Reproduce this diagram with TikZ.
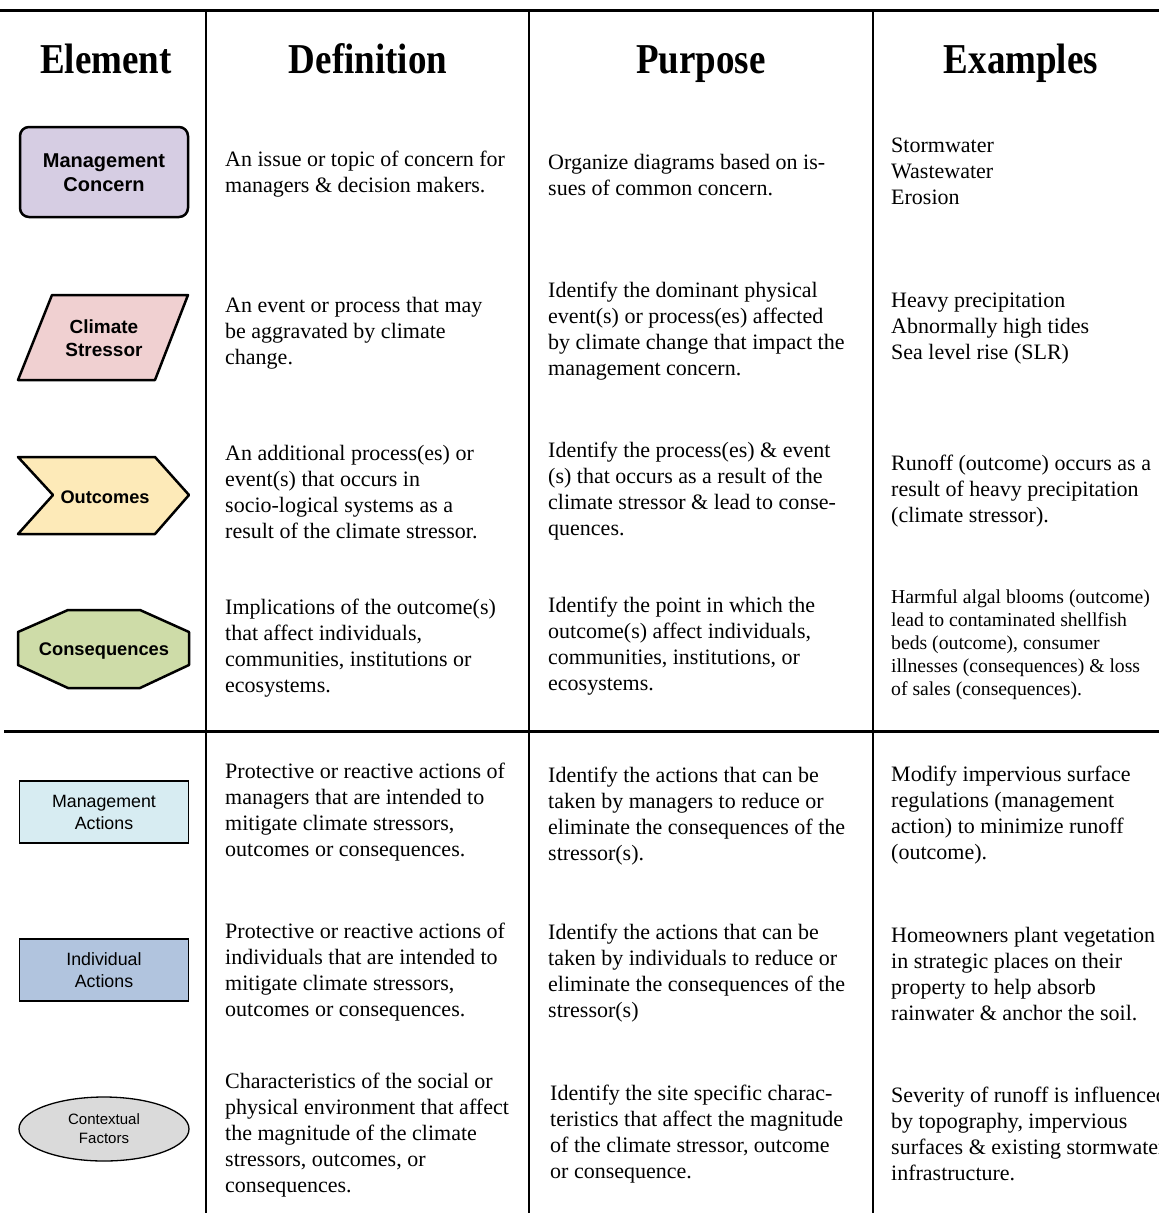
\documentclass[tikz,border=0pt]{standalone}
\usepackage{fontspec}
\setmainfont{Liberation Serif}
\newfontfamily\arialfont{Liberation Sans}
\usetikzlibrary{shapes.geometric}
\definecolor{concernfill}{RGB}{214,205,227}
\definecolor{stressfill}{RGB}{240,208,209}
\definecolor{outcomefill}{RGB}{253,234,184}
\definecolor{consfill}{RGB}{206,220,168}
\definecolor{mgmtfill}{RGB}{215,236,242}
\definecolor{indivfill}{RGB}{177,196,222}
\definecolor{ctxfill}{RGB}{218,218,218}

\begin{document}
\begin{tikzpicture}[x=1pt,y=-1pt,
          head/.style={anchor=base,font=\fontsize{37}{40}\selectfont\bfseries},
          txt/.style={anchor=west,align=left,inner sep=0,yshift=-2pt,font=\fontsize{22}{26}\selectfont},
          smalltxt/.style={txt,font=\fontsize{19.7}{23}\selectfont},
          shapeline/.style={draw,line width=2.5,line join=round},
          elem/.style={align=center,font=\arialfont\bfseries\fontsize{20}{24}\selectfont},
          act/.style={draw,line width=1.3,minimum width=169,minimum height=62,align=center,
                      font=\arialfont\fontsize{17.8}{22}\selectfont},
          rule/.style={line width=2}
        ]
        \useasboundingbox (0,0) rectangle (1159,1213);
        \clip (0,0) rectangle (1159,1213);

        %table rules
        \draw[rule,line width=3] (0,10) -- (1159,10);
        \draw[rule,line width=3] (4,731) -- (1159,731);
        \draw[rule] (206,10) -- (206,1213);
        \draw[rule] (529,10) -- (529,1213);
        \draw[rule] (873,10) -- (873,1213);

        %headers
        \node[head] (hElem) at (106,73) {\scalebox{1}[1.15]{Element}};
        \node[head] (hDef) at (368,73) {\scalebox{1}[1.15]{Definition}};
        \node[head] (hPurp) at (701,73) {\scalebox{1}[1.15]{Purpose}};
        \node[head] (hEx) at (1021,73) {\scalebox{1}[1.15]{Examples}};

        %element shapes
        \draw[shapeline,fill=concernfill,rounded corners=9] (20,127) rectangle (188,217);
        \node[elem] (concern) at (104,173) {Management\\Concern};

        \draw[shapeline,fill=stressfill] (18,380) -- (52,295) -- (188,295) -- (155,380) -- cycle;
        \node[elem,font=\arialfont\bfseries\fontsize{19}{23}\selectfont] (stressor) at (104,338) {Climate\\Stressor};

        \draw[shapeline,fill=outcomefill] (18,457) -- (155,457) -- (189,495) -- (155,534)
            -- (18,534) -- (53,495) -- cycle;
        \node[elem,font=\arialfont\bfseries\fontsize{18.2}{22}\selectfont] (outcomes) at (105,497) {Outcomes};

        \draw[shapeline,fill=consfill] (68,610) -- (140,610) -- (189,632) -- (189,665)
            -- (140,688) -- (68,688) -- (18,665) -- (18,632) -- cycle;
        \node[elem,font=\arialfont\bfseries\fontsize{18.3}{22}\selectfont] (conseq) at (104,651) {Consequences};

        \node[act,fill=mgmtfill] (mgmt) at (104,812) {Management\\Actions};
        \node[act,fill=indivfill] (indiv) at (104,970) {Individual\\Actions};
        \node[act,fill=ctxfill,ellipse,minimum width=170,minimum height=64,inner sep=0,
              font=\arialfont\fontsize{15}{19}\selectfont] (context) at (104,1129) {Contextual\\Factors};

        %definitions
        \node[txt] (def1) at (225,172) {An issue or topic of concern for\\managers \& decision makers.};
        \node[txt] (def2) at (225,331) {An event or process that may\\be aggravated by climate\\change.};
        \node[txt] (def3) at (225,490) {An additional process(es) or\\event(s) that occurs in\\socio-logical systems as a\\result of the climate stressor.};
        \node[txt] (def4) at (225,646) {Implications of the outcome(s)\\that affect individuals,\\communities, institutions or\\ecosystems.};
        \node[txt] (def5) at (225,810) {Protective or reactive actions of\\managers that are intended to\\mitigate climate stressors,\\outcomes or consequences.};
        \node[txt] (def6) at (225,970) {Protective or reactive actions of\\individuals that are intended to\\mitigate climate stressors,\\outcomes or consequences.};
        \node[txt] (def7) at (225,1133) {Characteristics of the social or\\physical environment that affect\\the magnitude of the climate\\stressors, outcomes, or\\consequences.};

        %purposes
        \node[txt] (purp1) at (548,173) {Organize diagrams based on is-\\sues of common concern.};
        \node[txt] (purp2) at (548,329) {Identify the dominant physical\\event(s) or process(es) affected\\by climate change that impact the\\management concern.};
        \node[txt] (purp3) at (548,489) {Identify the process(es) \& event\\(s) that occurs as a result of the\\climate stressor \& lead to conse-\\quences.};
        \node[txt] (purp4) at (548,644) {Identify the point in which the\\outcome(s) affect individuals,\\communities, institutions, or\\ecosystems.};
        \node[txt] (purp5) at (548,814) {Identify the actions that can be\\taken by managers to reduce or\\eliminate the consequences of the\\stressor(s).};
        \node[txt] (purp6) at (548,971) {Identify the actions that can be\\taken by individuals to reduce or\\eliminate the consequences of the\\stressor(s)};
        \node[txt] (purp7) at (550,1132) {Identify the site specific charac-\\teristics that affect the magnitude\\of the climate stressor, outcome\\or consequence.};

        %examples
        \node[txt] (ex1) at (891,169) {Stormwater\\Wastewater\\Erosion};
        \node[txt] (ex2) at (891,327) {Heavy precipitation\\Abnormally high tides\\Sea level rise (SLR)};
        \node[txt] (ex3) at (891,489) {Runoff (outcome) occurs as a\\result of heavy precipitation\\(climate stressor).};
        \node[smalltxt] (ex4) at (891,643) {Harmful algal blooms (outcome)\\lead to contaminated shellfish\\beds (outcome), consumer\\illnesses (consequences) \& loss\\of sales (consequences).};
        \node[txt] (ex5) at (891,813) {Modify impervious surface\\regulations (management\\action) to minimize runoff\\(outcome).};
        \node[txt] (ex6) at (891,972) {Homeowners plant vegetation\\in strategic places on their\\property to help absorb\\rainwater \& anchor the soil.};
        \node[txt] (ex7) at (891,1132) {Severity of runoff is influenced\\by topography, impervious\\surfaces \& existing stormwater\\infrastructure.};
    \end{tikzpicture}
\end{document}
